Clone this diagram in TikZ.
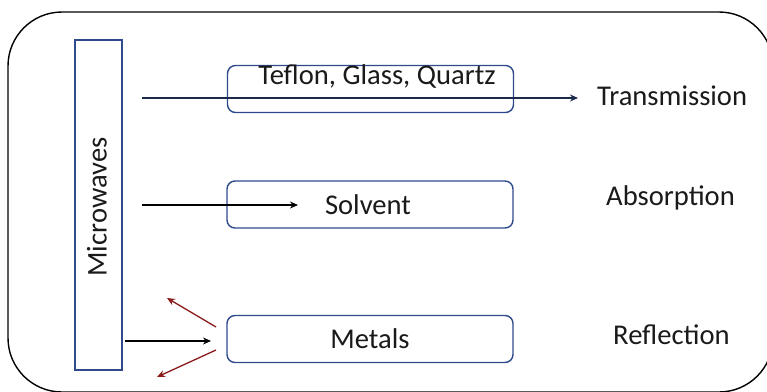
\documentclass[tikz,border=0pt]{standalone}
\usepackage{fontspec}
\setmainfont{Carlito}
\usetikzlibrary{arrows.meta}
\definecolor{boxblue}{HTML}{2E4A8C}
\definecolor{navy}{HTML}{1B2A4A}
\definecolor{darkred}{HTML}{8B1A1A}
\definecolor{txt}{HTML}{1A1A1A}
\begin{document}
\begin{tikzpicture}[x=1pt,y=-1pt,
  lbl/.style={font=\fontsize{28.6}{32}\selectfont, text=txt, inner sep=0pt},
  matbox/.style={draw=boxblue, line width=1.4pt, rounded corners=8pt, minimum width=286pt, minimum height=47pt, inner sep=0pt, font=\fontsize{28.6}{32}\selectfont, text=txt},
  arr/.style={line width=1.6pt, -{Stealth[length=8pt,width=7pt]}},
  redarr/.style={draw=darkred, line width=1.3pt, -{Stealth[length=8pt,width=7pt]}}
]
\useasboundingbox (0,0) rectangle (767,391);
\begin{scope}
\clip (0,0) rectangle (767,391);
\draw[line width=1.4pt, rounded corners=54pt] (8,12) rectangle (773,392);
\end{scope}
% Microwaves bar
\node[draw=boxblue, line width=1.4pt, minimum width=47pt, minimum height=330pt, inner sep=0pt] (mw) at (98.5,205) {};
\node[lbl, rotate=90] (mwt) at (97,207) {Microwaves};
% material boxes
\node[matbox] (teflon) at (370.5,89) {};
\node[lbl] (teflont) at (377,76) {Teflon, Glass, Quartz};
\node[matbox] (solvent) at (370,204.5) {};
\node[lbl] (solventt) at (368,205) {Solvent};
\node[matbox] (metals) at (370,339) {Metals};
% right labels
\node[lbl, anchor=west] (trans) at (597,96) {Transmission};
\node[lbl, anchor=west] (absorp) at (606,198) {Absorption};
\node[lbl, anchor=west] (refl) at (613,335) {Reflection};
% connector coordinates
\coordinate (t0) at (142,98);
\coordinate (t1) at (578,98);
\coordinate (s0) at (142,205);
\coordinate (s1) at (298,205);
\coordinate (m0) at (125,341);
\coordinate (m1) at (211,341);
\coordinate (r0) at (216,327);
\coordinate (r1) at (167,298);
\coordinate (r2) at (216,350);
\coordinate (r3) at (157,377);
% arrows
\draw[arr, draw=navy, line width=1.5pt] (t0) -- (t1);
\draw[arr] (s0) -- (s1);
\draw[arr] (m0) -- (m1);
\draw[redarr] (r0) -- (r1);
\draw[redarr] (r2) -- (r3);
\end{tikzpicture}
\end{document}
